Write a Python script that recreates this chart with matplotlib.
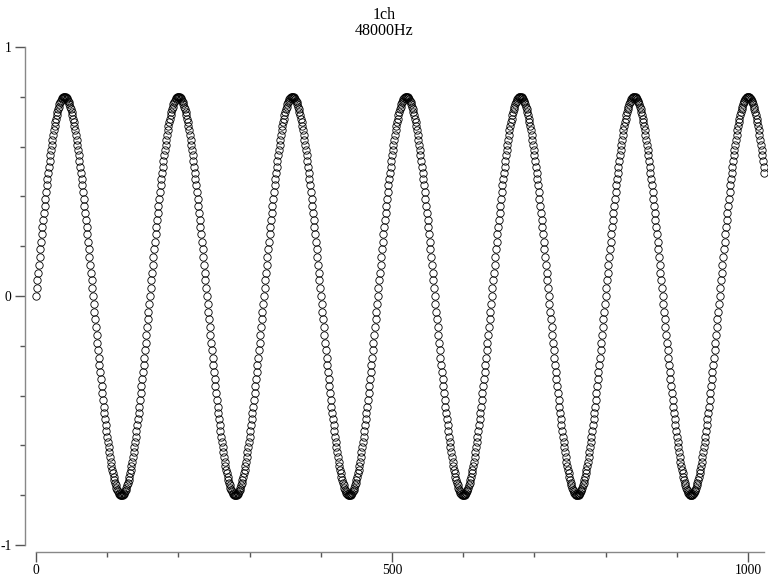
import numpy as np
import matplotlib
matplotlib.use("Agg")
import matplotlib.pyplot as plt

plt.rcParams['font.family'] = ['Liberation Serif', 'DejaVu Serif']
plt.rcParams['axes.unicode_minus'] = False

# signal info from the title
channels = "1ch"
sample_rate = 48000
n_samples = 1024

quarter = [0.0, 0.0314, 0.0628, 0.0940, 0.1251, 0.1561, 0.1868, 0.2172, 0.2472,
           0.2769, 0.3061, 0.3349, 0.3632, 0.3909, 0.4180, 0.4445, 0.4702, 0.4953,
           0.5196, 0.5430, 0.5657, 0.5875, 0.6083, 0.6283, 0.6472, 0.6652, 0.6821,
           0.6980, 0.7128, 0.7265, 0.7391, 0.7506, 0.7608, 0.7700, 0.7779, 0.7846,
           0.7902, 0.7945, 0.7975, 0.7994, 0.8]

# one cycle = 160 samples, the wave is the same cycle over and over
half = quarter + quarter[-2:0:-1]
cycle = half + [-v for v in half]
n_rep = n_samples // len(cycle) + 1
samples = (cycle * n_rep)[:n_samples]
x = np.arange(n_samples)

fig = plt.figure(figsize=(7.68, 5.76), dpi=100)
ax = fig.add_axes([36/768, 31/576, (764.4-36)/768, 498/576])

ax.plot(x, samples, 'o', mfc='none', mec='black', ms=5.3, mew=0.6, clip_on=False)

ax.set_xlim(0, n_samples - 1)
ax.set_ylim(-1, 1)

for s in ['top', 'right']:
    ax.spines[s].set_visible(False)
ax.spines['left'].set_position(('outward', 8))
ax.spines['bottom'].set_position(('outward', 5.3))
ax.spines['left'].set_bounds(-1, 1)
ax.spines['bottom'].set_bounds(0, n_samples - 1)
for s in ['left', 'bottom']:
    ax.spines[s].set_color('#888888')
    ax.spines[s].set_linewidth(1.0)

ax.set_xticks([0, 500, 1000])
ax.set_xticks(np.arange(0, 1001, 100), minor=True)
ax.set_yticks([-1, 0, 1])
ax.set_yticks(np.arange(-1, 1.01, 0.2), minor=True)
ax.tick_params(which='major', length=7.5, width=1, color='#555555', labelsize=9.8, pad=2)
ax.tick_params(which='minor', length=3.6, width=1, color='#555555')
ax.tick_params(axis='x', pad=1)

fig.suptitle(channels + "\n" + str(sample_rate) + "Hz", x=0.5, y=0.988,
             fontsize=11.5, linespacing=1.0)

fig.savefig("out.png", dpi=100)
